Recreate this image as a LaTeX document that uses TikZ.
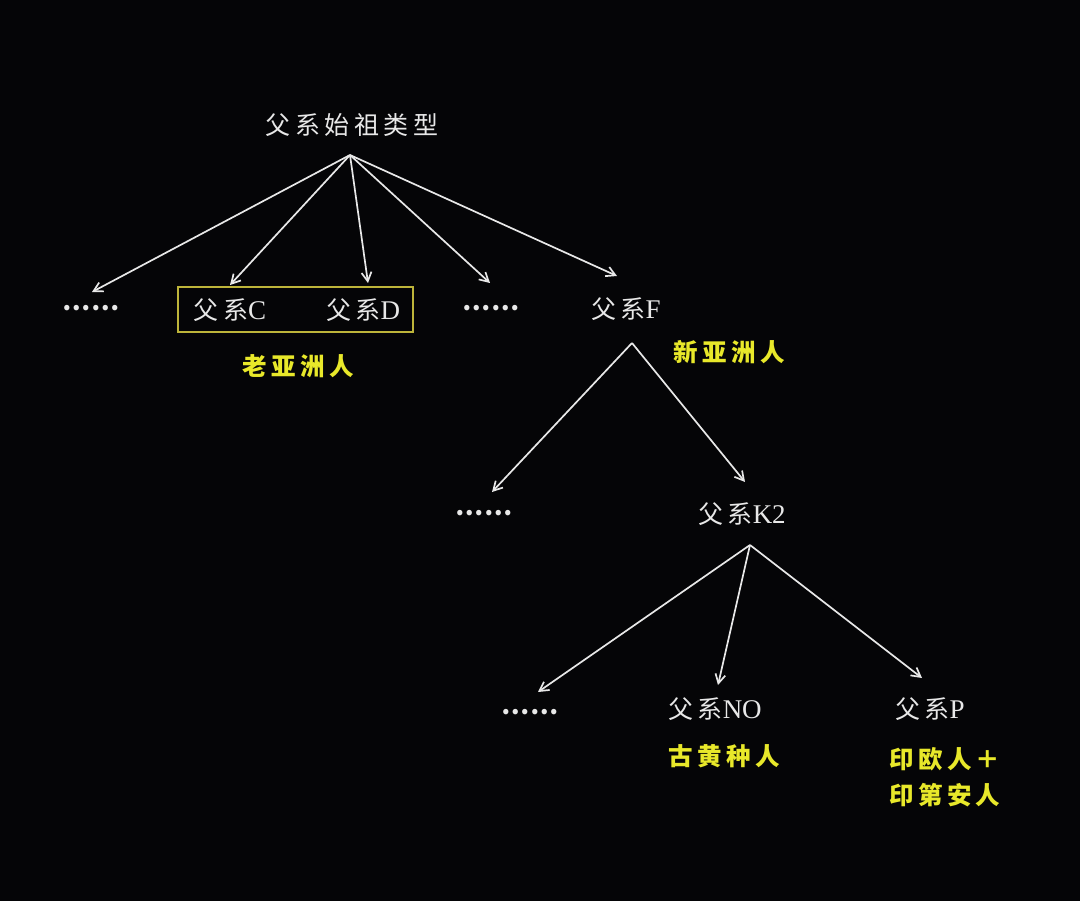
\documentclass[tikz,border=0pt]{standalone}
\usepackage{fontspec}
\setmainfont{Liberation Serif}
\newfontfamily\cjk[LetterSpace=18]{Noto Sans CJK SC}
\newfontfamily\cjkdots{Noto Sans CJK SC}
\usetikzlibrary{arrows.meta}
\definecolor{bg}{HTML}{050507}
\definecolor{fg}{HTML}{E8E8E8}
\definecolor{yel}{HTML}{E8E82A}
\definecolor{boxc}{HTML}{BDB43A}
\newcommand{\lat}[1]{{\fontsize{27}{30}\selectfont #1}}
\begin{document}
\begin{tikzpicture}[x=1pt,y=-1pt,
  lbl/.style={text=fg,font=\fontsize{25}{28}\selectfont,inner sep=0pt},
  dots/.style={text=fg,font=\fontsize{25}{28}\selectfont\cjkdots\bfseries,inner sep=0pt},
  ylbl/.style={text=yel,font=\fontsize{24.5}{36}\selectfont\cjk\bfseries,inner sep=0pt},
  arr/.style={draw=fg,line width=1.7pt,-{Straight Barb[length=9pt,width=10pt]}},
  grp/.style={draw=boxc,line width=1.8pt,minimum width=235pt,minimum height=45pt,inner sep=0pt}]
\fill[bg] (0,0) rectangle (1080,901);
\useasboundingbox (0,0) rectangle (1080,901);
% nodes
\node[lbl] (root) at (352,125) {\cjk 父系始祖类型};
\node[dots] (d1) at (91,308) {……};
\node[lbl] (C) at (230,310) {{\cjk 父系}\lat{C}};
\node[lbl] (D) at (363,310) {{\cjk 父系}\lat{D}};
\node[dots] (d2) at (491,308) {……};
\node[lbl] (F) at (626,309) {{\cjk 父系}\lat{F}};
\node[grp] (box) at (295.5,309.5) {};
\node[ylbl] (old) at (298,366) {老亚洲人};
\node[ylbl] (new) at (729,352) {新亚洲人};
\node[dots] (d3) at (484,513) {……};
\node[lbl] (K2) at (742,514) {{\cjk 父系}\lat{K2}};
\node[dots] (d4) at (530,712) {……};
\node[lbl] (NO) at (715,709) {{\cjk 父系}\lat{NO}};
\node[lbl] (P) at (930,709) {{\cjk 父系}\lat{P}};
\node[ylbl] (yh) at (724,756) {古黄种人};
\node[ylbl,align=left,anchor=west] (ie) at (889,777) {印欧人＋\\印第安人};
% connector end points
\coordinate (rA) at (350,155);
\coordinate (fA) at (632,343);
\coordinate (kA) at (750,545);
\coordinate (t1) at (92,292);
\coordinate (t2) at (230,285);
\coordinate (t3) at (368,283);
\coordinate (t4) at (490,283);
\coordinate (t5) at (617,276);
\coordinate (t6) at (492,492);
\coordinate (t7) at (745,482);
\coordinate (t8) at (538,692);
\coordinate (t9) at (718,685);
\coordinate (t10) at (922,678);
% connectors
\draw[arr] (rA) -- (t1);
\draw[arr] (rA) -- (t2);
\draw[arr] (rA) -- (t3);
\draw[arr] (rA) -- (t4);
\draw[arr] (rA) -- (t5);
\draw[arr] (fA) -- (t6);
\draw[arr] (fA) -- (t7);
\draw[arr] (kA) -- (t8);
\draw[arr] (kA) -- (t9);
\draw[arr] (kA) -- (t10);
\end{tikzpicture}
\end{document}
